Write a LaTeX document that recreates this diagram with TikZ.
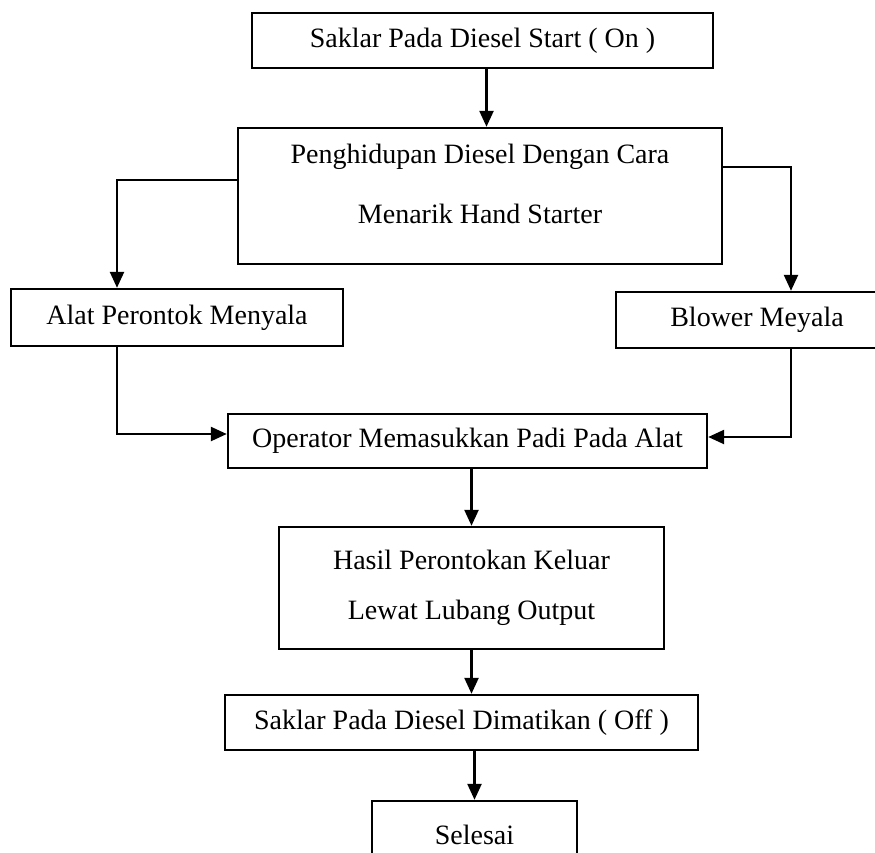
\documentclass[tikz,border=0pt]{standalone}
\usepackage{fontspec}
\setmainfont{Liberation Serif}
\usetikzlibrary{calc, positioning}
\usetikzlibrary{arrows.meta}

\begin{document}
\begin{tikzpicture}[x=1pt, y=-1pt,
  box/.style={draw, line width=2.4pt, inner sep=0pt, align=center,
    font=\fontsize{28}{60}\selectfont},
  arr/.style={-{Triangle[length=16pt, width=14pt]}, line width=2.4pt},
  ln/.style={line width=2.4pt}]
\useasboundingbox (0,0) rectangle (875,852);
% boxes
\node[box, minimum width=461, minimum height=55] (start) at (482.5,40.5) {Saklar Pada Diesel Start ( On )};
\node[box, minimum width=484, minimum height=136, text depth=24pt] (burn) at (480,196) {Penghidupan Diesel Dengan Cara\\Menarik Hand Starter};
\node[box, minimum width=332, minimum height=57] (alat) at (177,317.5) {Alat Perontok Menyala};
\node[box, minimum width=282, minimum height=56] (blower) at (757,320) {Blower Meyala};
\node[box, minimum width=479, minimum height=54] (feed) at (467.5,441) {Operator Memasukkan Padi Pada Alat};
\node[box, minimum width=385, minimum height=122, font=\fontsize{28}{50}\selectfont] (out) at (471.5,588) {Hasil Perontokan Keluar\\Lewat Lubang Output};
\node[box, minimum width=473, minimum height=55] (stop) at (461.5,722.5) {Saklar Pada Diesel Dimatikan ( Off )};
\node[box, minimum width=205, minimum height=68] (done) at (474.5,835) {Selesai};
% bends
\coordinate (lft) at (117,180);
\coordinate (rgt) at (791,167);
\coordinate (lbend) at (117,434);
\coordinate (rbend) at (791,437);
% connectors
\draw[arr] ([xshift=4pt]start.south) -- ([xshift=4pt]start.south |- burn.north);
\draw[arr] (lft -| burn.west) -- (lft) -- (lft |- alat.north);
\draw[arr] (rgt -| burn.east) -- (rgt) -- (rgt |- blower.north);
\draw[arr] (lbend |- alat.south) -- (lbend) -- (lbend -| feed.west);
\draw[arr] (rbend |- blower.south) -- (rbend) -- (rbend -| feed.east);
\draw[arr] (out.north |- feed.south) -- (out.north);
\draw[arr] (out.south) -- (out.south |- stop.north);
\draw[arr] (done.north |- stop.south) -- (done.north);
\end{tikzpicture}
\end{document}
